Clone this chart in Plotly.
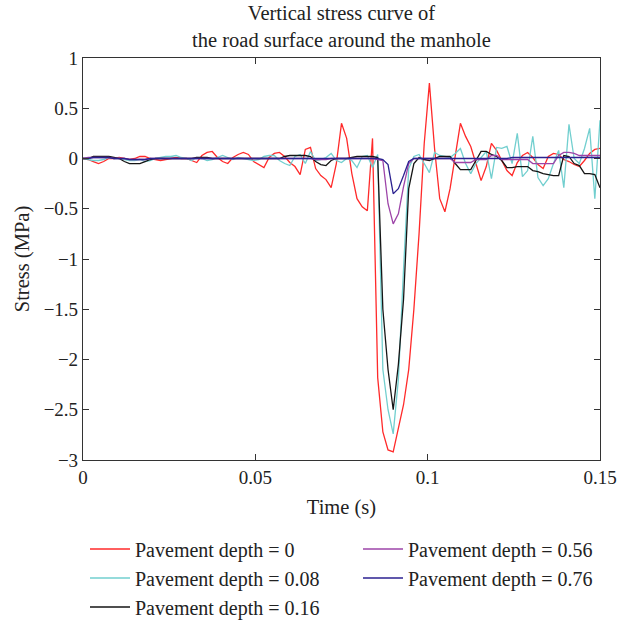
import plotly.graph_objects as go

dt = 0.0015
time_s = [round(i * dt, 6) for i in range(101)]

depth_0 = [
    0, -0.01, -0.03, -0.05, -0.03, 0, 0, 0.01, 0, -0.01,
    0, 0.02, 0.02, 0, -0.01, -0.02, -0.01, 0, 0.01, 0,
    0, -0.02, -0.04, 0.03, 0.06, 0.07, 0.01, -0.03, -0.05, 0.01,
    0.04, 0.06, 0.04, -0.03, -0.06, -0.09, 0.01, 0.05, 0.06, 0.02,
    -0.04, -0.08, -0.16, 0.09, 0.11, -0.10, -0.17, -0.21, -0.29, -0.05,
    0.35, 0.20, -0.15, -0.40, -0.48, -0.52, 0.20, -2.18, -2.72, -2.90,
    -2.92, -2.70, -2.45, -2.10, -1.50, -0.75, 0.15, 0.75, 0.10, -0.40,
    -0.53, -0.30, 0.05, 0.35, 0.22, 0.12, -0.05, -0.22, -0.08, 0.15,
    0.08, -0.02, -0.12, -0.17, -0.04, 0.03, 0.06, 0.01, -0.06, -0.10,
    0.02, 0.05, 0.04, -0.01, -0.03, -0.06, -0.08, -0.02, 0.05, 0.09,
    0.10,
]

depth_008 = [
    0, -0.01, -0.02, -0.02, -0.01, 0.01, 0, 0, -0.01, -0.02,
    -0.02, -0.01, -0.03, -0.02, 0, 0.01, 0.02, 0.02, 0.03, 0.01,
    0, -0.02, 0.01, 0, -0.02, -0.01, 0.01, 0.03, 0.01, -0.01,
    0.01, 0, -0.01, -0.02, -0.01, 0.02, 0.03, 0.03, -0.02, -0.05,
    -0.07, 0.02, 0.04, -0.05, 0.07, -0.02, -0.01, 0.01, 0.05, -0.02,
    -0.04, 0, -0.02, -0.09, 0.02, 0.03, -0.09, 0.04, -2.10, -2.50,
    -2.74, -2.20, -1.10, -0.10, 0.02, 0.04, -0.05, -0.14, 0.06, 0.03,
    0.02, 0.01, 0.05, 0.10, -0.05, -0.15, -0.05, 0.01, 0.07, -0.20,
    0.11, 0.10, 0.12, -0.05, 0.25, -0.18, -0.12, 0.22, -0.19, -0.27,
    -0.20, -0.05, 0.08, -0.29, 0.34, 0.0, -0.05, 0.10, 0.30, -0.40,
    0.38,
]

depth_016 = [
    0, 0, 0.02, 0.02, 0.02, 0.02, 0.01, 0, -0.03, -0.05,
    -0.05, -0.05, -0.03, -0.01, 0, 0, 0, 0, 0, 0,
    0, 0, 0.01, 0.01, 0.01, 0, 0, 0, 0, 0,
    0, 0, 0, 0, 0, 0, 0, 0, 0, 0.02,
    0.03, 0.03, 0.03, 0.03, 0.02, -0.03, -0.06, -0.07, -0.02, 0,
    0, 0, 0.01, 0.02, 0.02, 0.02, 0.02, 0.01, -1.50, -2.10,
    -2.50, -2.05, -1.40, -0.30, -0.05, 0.01, -0.01, -0.02, 0.0, 0.02,
    0.02, 0.02, -0.05, -0.11, -0.11, -0.11, -0.02, 0.07, 0.07, 0.04,
    0.02, -0.02, -0.09, -0.09, -0.08, -0.08, -0.08, -0.12, -0.13, -0.15,
    -0.16, -0.17, -0.17, 0.03, 0.02, -0.05, -0.07, -0.15, -0.15, -0.16,
    -0.29,
]

depth_056 = [
    0, 0.01, 0.01, 0.01, 0.01, 0.01, 0, 0, 0, -0.01,
    -0.01, -0.01, -0.01, 0, 0, 0, 0, 0, 0, 0,
    0, 0, 0, 0, 0, 0, 0, 0, 0, 0,
    0, 0, 0, 0, 0, 0, 0, 0, 0, 0,
    0, 0, 0, 0, 0, -0.01, -0.01, -0.01, 0, 0,
    0, 0, 0, 0, 0, 0, 0, -0.01, -0.02, -0.45,
    -0.65, -0.55, -0.28, -0.05, 0, 0, 0, 0, 0, 0,
    0, 0, -0.04, -0.04, -0.04, -0.04, -0.01, -0.01, -0.01, 0.03,
    0.03, -0.01, -0.01, -0.01, -0.01, -0.01, -0.01, -0.05, -0.05, -0.05,
    -0.05, -0.05, 0.03, 0.06, 0.06, 0.05, 0.03, 0.03, 0.03, 0.03,
    0.03,
]

depth_076 = [
    0, 0, 0.01, 0.01, 0.01, 0.01, 0, 0, 0, -0.01,
    -0.01, -0.01, -0.01, 0, 0, 0, 0, 0, 0, 0,
    0, 0, 0, 0, 0, 0, 0, 0, 0, 0,
    0, 0, 0, 0, 0, 0, 0, 0, 0, 0,
    0, 0, 0, 0, 0, 0, 0, 0, 0, 0,
    0, 0, 0, 0, 0, 0, 0, 0, -0.01, -0.06,
    -0.35, -0.30, -0.17, -0.03, 0, 0, 0, 0, 0, 0,
    0, 0, 0, 0, 0, 0, 0, 0, 0, 0,
    0, 0, 0, 0.01, 0.01, 0.01, 0.01, 0.01, 0.01, 0.01,
    0.01, 0.01, 0.01, 0.01, 0.01, 0.01, 0.01, 0.01, 0.01, 0.01,
    0.01,
]

series_names = [
    "Pavement depth = 0",
    "Pavement depth = 0.08",
    "Pavement depth = 0.16",
    "Pavement depth = 0.56",
    "Pavement depth = 0.76",
]
series_values = [depth_0, depth_008, depth_016, depth_056, depth_076]
series_colors = ["#ff2a2a", "#72cfcf", "#151515", "#9d44a8", "#2b2190"]
series_legend = ["legend", "legend", "legend", "legend2", "legend2"]

x_ticks = [0, 0.05, 0.1, 0.15]
x_ticklabels = ["0", "0.05", "0.1", "0.15"]
y_ticks = [1, 0.5, 0, -0.5, -1, -1.5, -2, -2.5, -3]
y_ticklabels = ["1", "0.5", "0", "\u22120.5", "\u22121", "\u22121.5", "\u22122", "\u22122.5", "\u22123"]

FONT = "Liberation Serif"

fig = go.Figure()
for name, vals, col, lg in zip(series_names, series_values, series_colors, series_legend):
    fig.add_trace(go.Scatter(
        x=time_s, y=vals, mode="lines", name=name,
        line=dict(color=col, width=1.3),
        legend=lg,
    ))

axis_common = dict(
    showline=True, linecolor="#333333", linewidth=1.2, mirror="allticks",
    ticks="inside", ticklen=6, tickcolor="#333333", tickwidth=1,
    showgrid=False, zeroline=False,
    tickfont=dict(family=FONT, size=19, color="#222222"),
)

legend_common = dict(
    orientation="h",
    entrywidthmode="fraction", entrywidth=1,
    itemwidth=40,
    yref="container", y=0.146, yanchor="top",
    xref="container", xanchor="left",
    font=dict(family=FONT, size=20, color="#222222"),
    bgcolor="rgba(0,0,0,0)",
)

fig.update_layout(
    width=618, height=620,
    margin=dict(l=83, r=18, t=58, b=160, autoexpand=False),
    paper_bgcolor="white", plot_bgcolor="white",
    font=dict(family=FONT, size=20, color="#222222"),
    title=dict(
        text="Vertical stress curve of<br>the road surface around the manhole",
        x=0.5, xanchor="center", xref="paper",
        yref="container", y=0.967, yanchor="top",
        font=dict(family=FONT, size=20.5, color="#222222"),
    ),
    xaxis=dict(
        range=[0, 0.15], tickvals=x_ticks, ticktext=x_ticklabels,
        title=dict(text="Time (s)", font=dict(family=FONT, size=20.5), standoff=12),
        **axis_common,
    ),
    yaxis=dict(
        range=[-3, 1], tickvals=y_ticks, ticktext=y_ticklabels,
        title=dict(text="Stress (MPa)", font=dict(family=FONT, size=20.5), standoff=8),
        **axis_common,
    ),
    legend=dict(x=85 / 618, **legend_common),
    legend2=dict(x=358 / 618, **legend_common),
    showlegend=True,
)

fig.write_html("out.html")
